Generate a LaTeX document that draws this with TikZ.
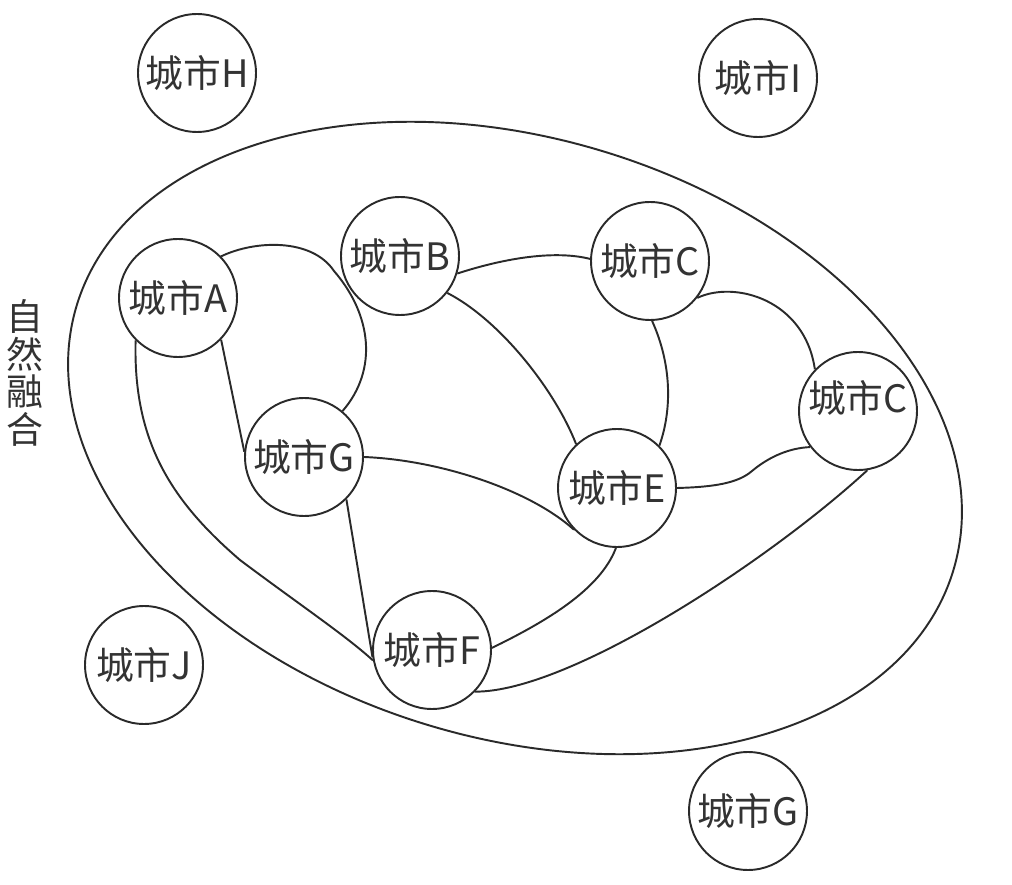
\documentclass[tikz,border=0pt]{standalone}
\usepackage{fontspec}
\setmainfont{Noto Sans CJK SC}
\usepackage{tikz}
\usetikzlibrary{
    calc,
    shapes.geometric
}
\definecolor{inkline}{HTML}{2A2A2A}
\definecolor{inktext}{HTML}{333333}
\tikzset{
    city/.style={
        draw=inkline,
        circle,
        line width=1.1pt,
        minimum size=2.36cm,
        inner sep=0pt,
        text=inktext,
        font=\fontsize{21.5}{23}\selectfont
    },
    city link/.style={draw=inkline, line width=1.1pt},
    region/.style={
        draw=inkline,
        ellipse,
        line width=1.1pt,
        inner sep=0pt
    }
}

\begin{document}
\begin{tikzpicture}[x=0.02cm, y=-0.02cm]
    \useasboundingbox (0,0) rectangle (1012,885);

    \node[region, minimum width=18.32cm, minimum height=12cm, rotate=-16.8] (fusion) at (515,438) {};
    \node[text=inktext, align=center, font=\fontsize{21}{21.5}\selectfont] (fusionlabel) at (25,373) {自\\然\\融\\合};

    \node[city] (cityH) at (197,73) {城市H};
    \node[city] (cityI) at (758,78) {城市I};
    \node[city] (cityA) at (178,298) {城市A};
    \node[city] (cityB) at (400,256) {城市B};
    \node[city] (cityC) at (650,261) {城市C};
    \node[city, label={[text=inktext, font=\fontsize{21.5}{23}\selectfont, yshift=0.25cm]center:城市C}] (cityCr) at (858,411) {};
    \node[city] (cityG) at (304,457) {城市G};
    \node[city] (cityE) at (617,488) {城市E};
    \node[city] (cityF) at (432,650) {城市F};
    \node[city] (cityJ) at (144,665) {城市J};
    \node[city] (cityGb) at (748,811) {城市G};

    \coordinate (notchAB) at (334,271);
    \coordinate (bendEC) at (752,471);
    \coordinate (bendAF) at (240,560);

    \draw[city link] (cityA.44) .. controls (255,240) and (312,238) .. (notchAB)
        .. controls (372,315) and (378,370) .. (cityG.50);
    \draw[city link] (cityA.-44) -- (cityG.175);
    \draw[city link] (cityA.-135) .. controls (133,440) and (170,500) .. (bendAF)
        .. controls (300,605) and (345,635) .. (cityF.190);
    \draw[city link] (cityB.-17) .. controls (505,258) and (555,250) .. (cityC.178);
    \draw[city link] (cityB.-38) .. controls (500,320) and (555,390) .. (cityE.133);
    \draw[city link] (cityC.-88) .. controls (672,365) and (672,410) .. (cityE.45);
    \draw[city link] (cityC.-38) .. controls (735,280) and (805,300) .. (cityCr.136);
    \draw[city link] (cityE.0) .. controls (715,487) and (738,483) .. (bendEC)
        .. controls (770,456) and (790,448) .. (cityCr.-143);
    \draw[city link] (cityG.0) .. controls (440,460) and (530,490) .. (cityE.-136);
    \draw[city link] (cityG.-45) -- (cityF.187);
    \draw[city link] (cityE.-91) .. controls (600,590) and (545,622) .. (cityF.2);
    \draw[city link] (cityF.-44) .. controls (570,692) and (770,560) .. (cityCr.-81);
\end{tikzpicture}
\end{document}
